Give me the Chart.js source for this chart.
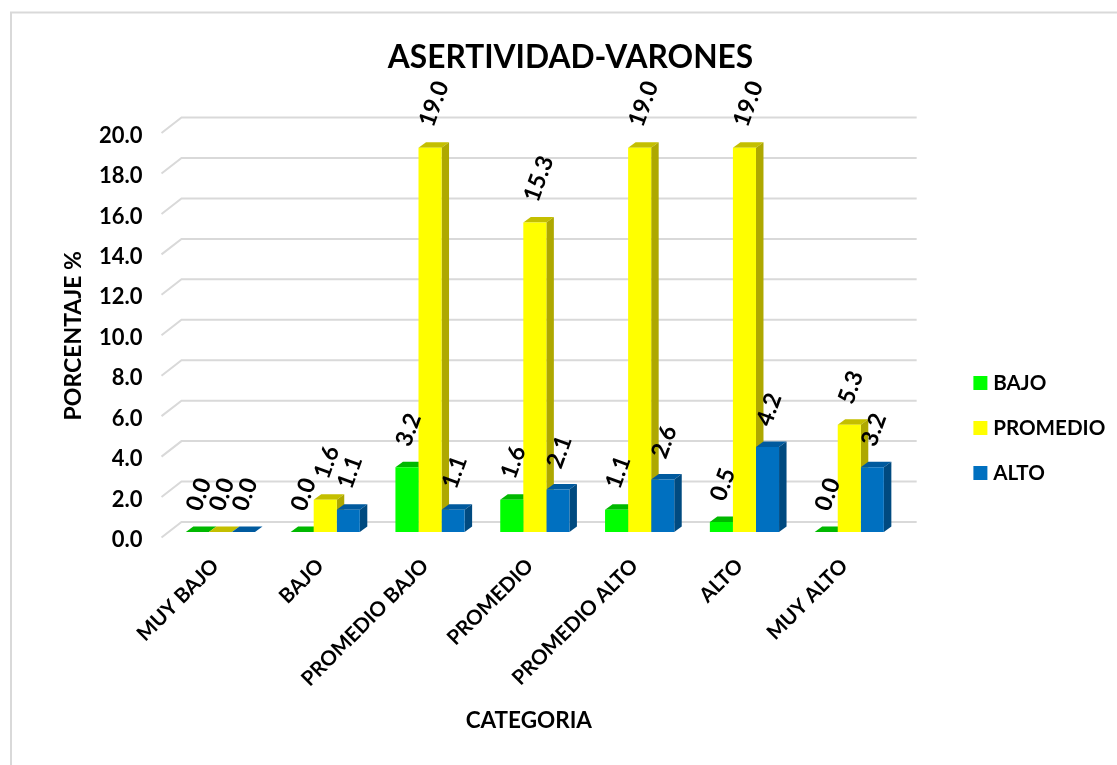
<!DOCTYPE html>
<html>
<head>
<meta charset="utf-8">
<title>Asertividad - Varones</title>
<script src="https://cdn.jsdelivr.net/npm/chart.js@4"></script>
<style>
    html, body { margin: 0; padding: 0; background: #ffffff; }
    #wrap { position: relative; width: 1117px; height: 765px; }
</style>
</head>
<body>
<div id="wrap"><canvas id="myChart" width="1117" height="765"></canvas></div>
<script>
const categories = ['MUY BAJO', 'BAJO', 'PROMEDIO BAJO', 'PROMEDIO', 'PROMEDIO ALTO', 'ALTO', 'MUY ALTO']
const bajo = [0.0, 0.0, 3.2, 1.6, 1.1, 0.5, 0.0]
const promedio = [0.0, 1.6, 19.0, 15.3, 19.0, 19.0, 5.3]
const alto = [0.0, 1.1, 1.1, 2.1, 2.6, 4.2, 3.2]

const fontName = 'Lato, Carlito, sans-serif'
// front, top and side colours of each series
const faces = [
    { front: '#00ff00', top: '#00b800', side: '#00a000' },
    { front: '#ffff00', top: '#c4bf00', side: '#aea800' },
    { front: '#0070c0', top: '#005a9e', side: '#004a80' }
]
const depth = { x: 7.5, y: 5.5 }

// moves legend and the titles to where the original has them
const placement = {
    id: 'placement',
    afterLayout(chart) {
        const legend = chart.legend
        const w = legend.right - legend.left
        legend.left = 953.5
        legend.right = legend.left + w
        legend.top += 49
        legend.bottom += 49
        chart.titleBlock.left += 9.25
        chart.titleBlock.right += 9.25
        chart.scales.x.right -= 12
        chart.scales.y.top += 6
        chart.scales.y.bottom += 6
    }
}

// grey frame, back wall lines and slanted lines of the 3d floor
const wall = {
    id: 'wall',
    beforeDatasetsDraw(chart) {
        const ctx = chart.ctx
        const area = chart.chartArea
        const yScale = chart.scales.y
        ctx.save()
        ctx.strokeStyle = '#d9d9d9'
        ctx.lineWidth = 2
        ctx.beginPath()
        ctx.moveTo(11, chart.height)
        ctx.lineTo(11, 12.5)
        ctx.lineTo(chart.width, 12.5)
        ctx.stroke()
        yScale.ticks.forEach(t => {
            const y = yScale.getPixelForValue(t.value)
            ctx.beginPath()
            ctx.moveTo(area.left - 6.5, y + 5.5)
            ctx.lineTo(area.left + 13.5, y - 10)
            ctx.lineTo(area.right + 15, y - 10)
            ctx.stroke()
        })
        ctx.restore()
    }
}

// top and side faces go under the fronts, the library then draws the fronts
const bars3d = {
    id: 'bars3d',
    beforeDatasetsDraw(chart) {
        const ctx = chart.ctx
        ctx.save()
        for (let c = 0; c < categories.length; c++) {
            faces.forEach((face, d) => {
                const bar = chart.getDatasetMeta(d).data[c]
                const left = bar.x - bar.width / 2
                const right = bar.x + bar.width / 2
                ctx.fillStyle = face.top
                ctx.beginPath()
                ctx.moveTo(left, bar.y)
                ctx.lineTo(left + depth.x, bar.y - depth.y)
                ctx.lineTo(right + depth.x, bar.y - depth.y)
                ctx.lineTo(right, bar.y)
                ctx.fill()
                ctx.fillStyle = face.side
                ctx.beginPath()
                ctx.moveTo(right, bar.y)
                ctx.lineTo(right + depth.x, bar.y - depth.y)
                ctx.lineTo(right + depth.x, bar.base - depth.y)
                ctx.lineTo(right, bar.base)
                ctx.fill()
            })
        }
        ctx.restore()
    }
}

// rotated value labels over the bars
const valueLabels = {
    id: 'valueLabels',
    afterDatasetsDraw(chart) {
        const ctx = chart.ctx
        ctx.save()
        ctx.fillStyle = '#000000'
        ctx.font = 'bold 23.5px ' + fontName
        ctx.textAlign = 'left'
        ctx.textBaseline = 'middle'
        chart.data.datasets.forEach((ds, d) => {
            chart.getDatasetMeta(d).data.forEach((bar, i) => {
                ctx.save()
                ctx.translate(bar.x - 4, bar.y - 22)
                ctx.rotate(-70 * Math.PI / 180)
                ctx.fillText(ds.data[i].toFixed(1), 0, 0)
                ctx.restore()
            })
        })
        ctx.restore()
    }
}

const ctx = document.getElementById('myChart')

const myChart = new Chart(ctx, {
    type: 'bar',
    data: {
        labels: categories,
        datasets: [
            { label: 'BAJO', data: bajo, backgroundColor: faces[0].front },
            { label: 'PROMEDIO', data: promedio, backgroundColor: faces[1].front },
            { label: 'ALTO', data: alto, backgroundColor: faces[2].front }
        ]
    },
    options: {
        responsive: false,
        animation: false,
        layout: { padding: { left: 59, right: 53.5, top: 24, bottom: 31 } },
        datasets: { bar: { barPercentage: 1, categoryPercentage: 0.66 } },
        plugins: {
            title: {
                display: true,
                text: 'ASERTIVIDAD-VARONES',
                color: '#000000',
                font: { family: fontName, size: 31.7, weight: 'bold' },
                padding: { top: 15, bottom: 50.5 }
            },
            legend: {
                position: 'right',
                labels: {
                    usePointStyle: true,
                    pointStyle: 'rect',
                    boxWidth: 5,
                    boxHeight: 14,
                    padding: 24.4,
                    color: '#000000',
                    font: { family: fontName, size: 20.6, weight: 'bold' }
                }
            },
            tooltip: { enabled: false }
        },
        scales: {
            x: {
                afterFit(scale) {
                    // no room kept for the long rotated first label
                    scale.paddingLeft = 0
                    scale.paddingRight = 0
                    scale.height = 202
                },
                grid: { display: false },
                border: { display: false },
                ticks: {
                    color: '#000000',
                    font: { family: fontName, size: 20.5, weight: 'bold' },
                    minRotation: 45,
                    maxRotation: 45,
                    padding: 14,
                    labelOffset: -5
                },
                title: {
                    display: true,
                    text: 'CATEGORIA',
                    color: '#000000',
                    font: { family: fontName, size: 22.5, weight: 'bold' },
                    padding: { top: 10, bottom: 0 }
                }
            },
            y: {
                afterFit(scale) {
                    scale.width = 109
                },
                min: 0,
                max: 20,
                grid: { display: false, drawTicks: false },
                border: { display: false },
                ticks: {
                    stepSize: 2,
                    color: '#000000',
                    font: { family: fontName, size: 22, weight: 'bold' },
                    padding: 25.5,
                    labelOffset: 8,
                    callback: value => value.toFixed(1)
                },
                title: {
                    display: true,
                    text: 'PORCENTAJE %',
                    color: '#000000',
                    font: { family: fontName, size: 23, weight: 'bold' },
                    padding: { top: 1, bottom: 13 }
                }
            }
        }
    },
    plugins: [placement, wall, bars3d, valueLabels]
})
</script>
</body>
</html>
